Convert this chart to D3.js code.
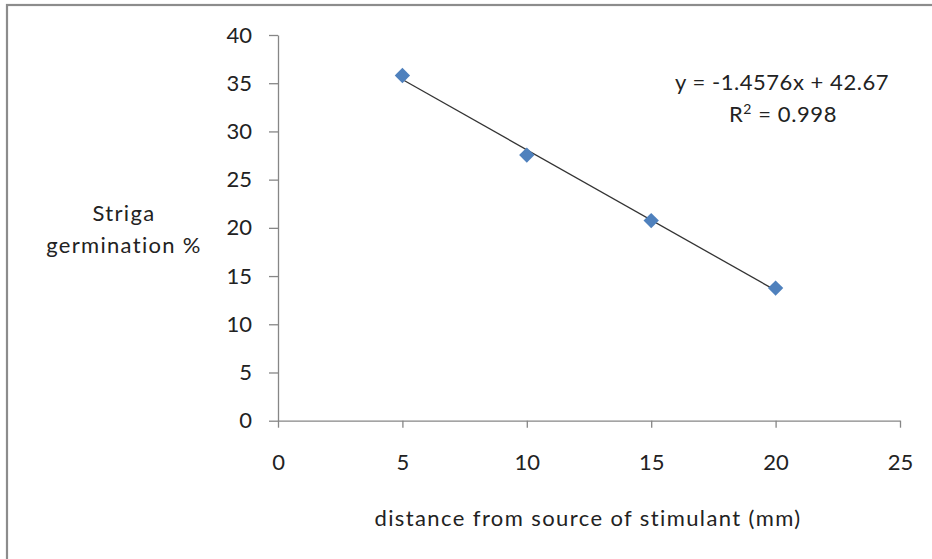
<!DOCTYPE html>
<html>
<head>
<meta charset="utf-8">
<script src="https://cdn.jsdelivr.net/npm/d3@7"></script>
<style>
  html, body { margin: 0; padding: 0; background: #fff; }
  svg { display: block; }
  text { font-family: Lato, "Open Sans", sans-serif; fill: #222; }
</style>
</head>
<body>
<svg id="chart" width="932" height="559"></svg>
<script>
// ---- data ----
const distances = [5, 10, 15, 20];
const germination = [35.8, 27.55, 20.75, 13.75];
const xTicks = [0, 5, 10, 15, 20, 25];
const yTicks = [0, 5, 10, 15, 20, 25, 30, 35, 40];
const trendSlope = -1.4576;
const trendIntercept = 42.67;
const equationText = "y = -1.4576x + 42.67";
const r2Value = "0.998";
const xTitle = "distance from source of stimulant (mm)";
const yTitleLines = ["Striga", "germination %"];

// ---- layout ----
const W = 932, H = 559;
const svg = d3.select("#chart");
const axisColor = "#868686";
const fs = 22;

// border (chart frame, partially cropped)
svg.append("rect")
  .attr("x", 7).attr("y", 5)
  .attr("width", W + 10).attr("height", H + 10)
  .attr("fill", "none").attr("stroke", "#8c8c8c").attr("stroke-width", 2.2);

const x = d3.scaleLinear().domain([0, 25]).range([278, 900]);
const y = d3.scaleLinear().domain([0, 40]).range([420.7, 35]);

// y axis
const yAxis = svg.append("g")
  .attr("transform", `translate(${x(0)},0)`)
  .call(d3.axisLeft(y).tickValues(yTicks).tickFormat(d3.format("d"))
    .tickSize(9).tickSizeOuter(0).tickPadding(17));
// x axis
const xAxis = svg.append("g")
  .attr("transform", `translate(0,${y(0)})`)
  .call(d3.axisBottom(x).tickValues(xTicks).tickFormat(d3.format("d"))
    .tickSize(7).tickSizeOuter(0).tickPadding(27));

[yAxis, xAxis].forEach(g => {
  g.select(".domain").attr("stroke", axisColor).attr("stroke-width", 1.3);
  g.selectAll(".tick line").attr("stroke", axisColor).attr("stroke-width", 1.3);
  g.selectAll(".tick text")
    .attr("font-family", "Lato, 'Open Sans', sans-serif")
    .attr("font-size", fs).attr("fill", "#222");
});

// trend line over data range
const xMin = d3.min(distances), xMax = d3.max(distances);
svg.append("line")
  .attr("x1", x(xMin)).attr("y1", y(trendSlope * xMin + trendIntercept))
  .attr("x2", x(xMax)).attr("y2", y(trendSlope * xMax + trendIntercept))
  .attr("stroke", "#333").attr("stroke-width", 1.3);

// markers (diamonds)
const sym = d3.symbol().type(d3.symbolDiamond2).size(150);
svg.append("g").selectAll("path")
  .data(distances.map((d, i) => [d, germination[i]]))
  .join("path")
  .attr("d", sym)
  .attr("transform", d => `translate(${x(d[0])},${y(d[1])})`)
  .attr("fill", "#4F81BD");

// equation
svg.append("text")
  .attr("x", 782).attr("y", 90)
  .attr("text-anchor", "middle").attr("font-size", fs)
  .attr("letter-spacing", 0.55)
  .text(equationText);
const r2 = svg.append("text")
  .attr("x", 783).attr("y", 122)
  .attr("text-anchor", "middle").attr("font-size", fs)
  .attr("letter-spacing", 0.6);
r2.append("tspan").text("R");
r2.append("tspan").attr("dy", -8).attr("font-size", 14).text("2");
r2.append("tspan").attr("dy", 8).text(" = " + r2Value);

// axis titles
svg.append("text")
  .attr("x", 588).attr("y", 526)
  .attr("text-anchor", "middle").attr("font-size", fs)
  .attr("letter-spacing", 1.4)
  .text(xTitle);
svg.append("g").selectAll("text")
  .data(yTitleLines)
  .join("text")
  .attr("x", 124).attr("y", (d, i) => 221 + i * 32)
  .attr("text-anchor", "middle").attr("font-size", fs)
  .attr("letter-spacing", 1.3)
  .text(d => d);
</script>
</body>
</html>
